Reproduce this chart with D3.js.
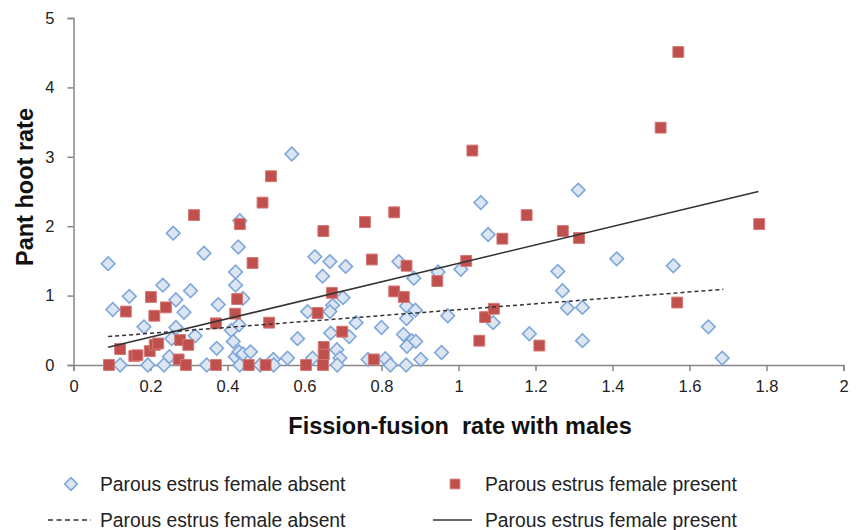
<!DOCTYPE html>
<html>
<head>
<meta charset="utf-8">
<script src="https://cdn.jsdelivr.net/npm/d3@7"></script>
<style>
  body { margin: 0; background: #fff; }
  text { font-family: "Liberation Sans", Arial, sans-serif; }
</style>
</head>
<body>
<div class="scatter-page"></div>
<script>
// fission-fusion rate (x) and pant hoot rate (y), estrus female absent
let absentX = [0.09, 0.259, 0.339, 0.428, 0.432, 0.421, 0.421, 0.145, 0.232, 0.102,
  0.266, 0.304, 0.287, 0.376, 0.44, 0.183, 0.266, 0.316, 0.255, 0.41,
  0.415, 0.43, 0.372, 0.249, 0.42, 0.43, 0.44, 0.46, 0.121, 0.193,
  0.235, 0.346, 0.432, 0.485, 0.567, 0.627, 0.666, 0.707, 0.647, 0.845,
  0.884, 0.947, 0.70, 0.673, 0.608, 0.666, 0.734, 0.80, 0.865, 0.888,
  0.865, 0.972, 0.582, 0.668, 0.716, 0.857, 0.879, 0.889, 0.866, 0.956,
  0.556, 0.519, 0.621, 0.684, 0.692, 0.685, 0.765, 0.81, 0.823, 0.864,
  0.902, 0.52, 1.311, 1.058, 1.077, 1.411, 1.006, 1.258, 1.27, 1.283,
  1.322, 1.09, 1.184, 1.322, 1.558, 1.649, 1.685];
let absentY = [1.46, 1.90, 1.61, 1.70, 2.08, 1.34, 1.15, 0.99, 1.15, 0.80,
  0.94, 1.07, 0.76, 0.87, 0.96, 0.55, 0.54, 0.42, 0.38, 0.50,
  0.34, 0.58, 0.24, 0.12, 0.12, 0.19, 0.16, 0.19, 0, 0,
  0, 0, 0, 0, 3.04, 1.56, 1.49, 1.42, 1.28, 1.49,
  1.25, 1.34, 0.97, 0.86, 0.77, 0.77, 0.61, 0.54, 0.85, 0.79,
  0.67, 0.71, 0.38, 0.46, 0.41, 0.44, 0.35, 0.34, 0.27, 0.18,
  0.10, 0.08, 0.10, 0.22, 0.10, 0, 0.08, 0.09, 0, 0,
  0.08, 0, 2.52, 2.34, 1.88, 1.53, 1.38, 1.35, 1.07, 0.82,
  0.83, 0.61, 0.45, 0.35, 1.43, 0.55, 0.10];

// estrus female present
let presentX = [0.313, 0.432, 0.491, 0.513, 0.465, 0.201, 0.136, 0.21, 0.24, 0.425,
  0.42, 0.37, 0.121, 0.158, 0.166, 0.198, 0.211, 0.22, 0.277, 0.298,
  0.273, 0.292, 0.092, 0.37, 0.455, 0.499, 0.508, 0.604, 0.65, 0.65,
  0.648, 0.634, 0.671, 0.649, 0.698, 0.757, 0.775, 0.78, 0.833, 0.833,
  0.858, 0.865, 0.945, 1.02, 1.036, 1.054, 1.069, 1.092, 1.114, 1.177,
  1.21, 1.271, 1.313, 1.525, 1.571, 1.568, 1.781];
let presentY = [2.16, 2.03, 2.34, 2.72, 1.47, 0.98, 0.77, 0.71, 0.83, 0.95,
  0.74, 0.60, 0.23, 0.13, 0.14, 0.20, 0.29, 0.31, 0.36, 0.29,
  0.08, 0, 0, 0, 0, 0, 0.61, 0, 0.26, 0.15,
  0, 0.75, 1.04, 1.93, 0.48, 2.06, 1.52, 0.08, 2.20, 1.06,
  0.98, 1.43, 1.21, 1.50, 3.09, 0.35, 0.69, 0.81, 1.82, 2.16,
  0.28, 1.93, 1.83, 3.42, 4.51, 0.90, 2.03];

// linear trend lines, end points
let trendAbsent = [[0.09, 0.41], [1.688, 1.09]];
let trendPresent = [[0.09, 0.255], [1.779, 2.50]];

let xTicks = [0, 0.2, 0.4, 0.6, 0.8, 1, 1.2, 1.4, 1.6, 1.8, 2];
let yTicks = [0, 1, 2, 3, 4, 5];
let seriesNames = ["Parous estrus female absent", "Parous estrus female present"];

let width = 859, height = 530;

let svg = d3.select(".scatter-page")
  .append("svg")
  .attr("width", width)
  .attr("height", height);

let x = d3.scaleLinear().domain([0, 2]).range([73.5, 843.5]);
let y = d3.scaleLinear().domain([0, 5]).range([365, 18]);

let axisColor = "#878787";

let xAxis = svg.append("g")
  .attr("transform", "translate(0," + y(0) + ")")
  .call(d3.axisBottom(x).tickValues(xTicks).tickSize(6).tickPadding(9)
    .tickFormat(d3.format("~g")));

let yAxis = svg.append("g")
  .attr("transform", "translate(" + x(0) + ",0)")
  .call(d3.axisLeft(y).tickValues(yTicks).tickSize(6).tickPadding(13)
    .tickFormat(d3.format("d")));

[xAxis, yAxis].forEach(function(g) {
  g.select(".domain").attr("stroke", axisColor).attr("stroke-width", 1.5);
  g.selectAll(".tick line").attr("stroke", axisColor).attr("stroke-width", 1.5);
  g.selectAll(".tick text")
    .attr("fill", "#222")
    .style("font-size", "16.5px")
    .style("font-family", "'Liberation Sans', Arial, sans-serif");
});

// axis titles
svg.append("text")
  .attr("x", 460)
  .attr("y", 434)
  .attr("text-anchor", "middle")
  .style("font-size", "23.5px")
  .style("font-weight", "bold")
  .style("white-space", "pre")
  .attr("fill", "#111")
  .text("Fission-fusion  rate with males");

svg.append("text")
  .attr("transform", "translate(33,187) rotate(-90)")
  .attr("text-anchor", "middle")
  .style("font-size", "23.5px")
  .style("font-weight", "bold")
  .attr("fill", "#111")
  .text("Pant hoot rate");

let diamond = d3.symbol().type(d3.symbolSquare).size(92);
let square = d3.symbol().type(d3.symbolSquare).size(118);

let absent = absentX.map(function(v, i) { return { x: v, y: absentY[i] }; });
let present = presentX.map(function(v, i) { return { x: v, y: presentY[i] }; });

svg.append("g")
  .selectAll("path")
  .data(absent)
  .enter()
  .append("path")
  .attr("d", diamond)
  .attr("transform", function(d) {
    return "translate(" + x(d.x) + "," + y(d.y) + ") rotate(45)";
  })
  .attr("fill", "#dce6f2")
  .attr("stroke", "#7ea6da")
  .attr("stroke-width", 1.6);

svg.append("g")
  .selectAll("path")
  .data(present)
  .enter()
  .append("path")
  .attr("d", square)
  .attr("transform", function(d) {
    return "translate(" + x(d.x) + "," + y(d.y) + ")";
  })
  .attr("fill", "#c0504d")
  .attr("stroke", "#d47774")
  .attr("stroke-width", 1);

let line = d3.line()
  .x(function(d) { return x(d[0]); })
  .y(function(d) { return y(d[1]); });

svg.append("path")
  .datum(trendAbsent)
  .attr("d", line)
  .attr("fill", "none")
  .attr("stroke", "#333")
  .attr("stroke-width", 1.5)
  .attr("stroke-dasharray", "4,3");

svg.append("path")
  .datum(trendPresent)
  .attr("d", line)
  .attr("fill", "none")
  .attr("stroke", "#333")
  .attr("stroke-width", 1.5);

// legend
let legend = svg.append("g");

legend.append("path")
  .attr("d", d3.symbol().type(d3.symbolSquare).size(80))
  .attr("transform", "translate(71,484) rotate(45)")
  .attr("fill", "#dce6f2")
  .attr("stroke", "#7ea6da")
  .attr("stroke-width", 1.6);

legend.append("path")
  .attr("d", d3.symbol().type(d3.symbolSquare).size(95))
  .attr("transform", "translate(455,484)")
  .attr("fill", "#c0504d")
  .attr("stroke", "#d47774");

legend.append("line")
  .attr("x1", 48).attr("x2", 91)
  .attr("y1", 520).attr("y2", 520)
  .attr("stroke", "#333")
  .attr("stroke-width", 1.3)
  .attr("stroke-dasharray", "5,3.5");

legend.append("line")
  .attr("x1", 433).attr("x2", 472)
  .attr("y1", 520).attr("y2", 520)
  .attr("stroke", "#333")
  .attr("stroke-width", 1.5);

let legendText = [
  { x: 100, y: 484, t: seriesNames[0] },
  { x: 485, y: 484, t: seriesNames[1] },
  { x: 100, y: 520, t: seriesNames[0] },
  { x: 485, y: 520, t: seriesNames[1] }
];

legend.selectAll("text")
  .data(legendText)
  .enter()
  .append("text")
  .attr("x", function(d) { return d.x; })
  .attr("y", function(d) { return d.y; })
  .attr("dy", "0.35em")
  .style("font-size", "19.3px")
  .attr("fill", "#222")
  .text(function(d) { return d.t; });
</script>
</body>
</html>
